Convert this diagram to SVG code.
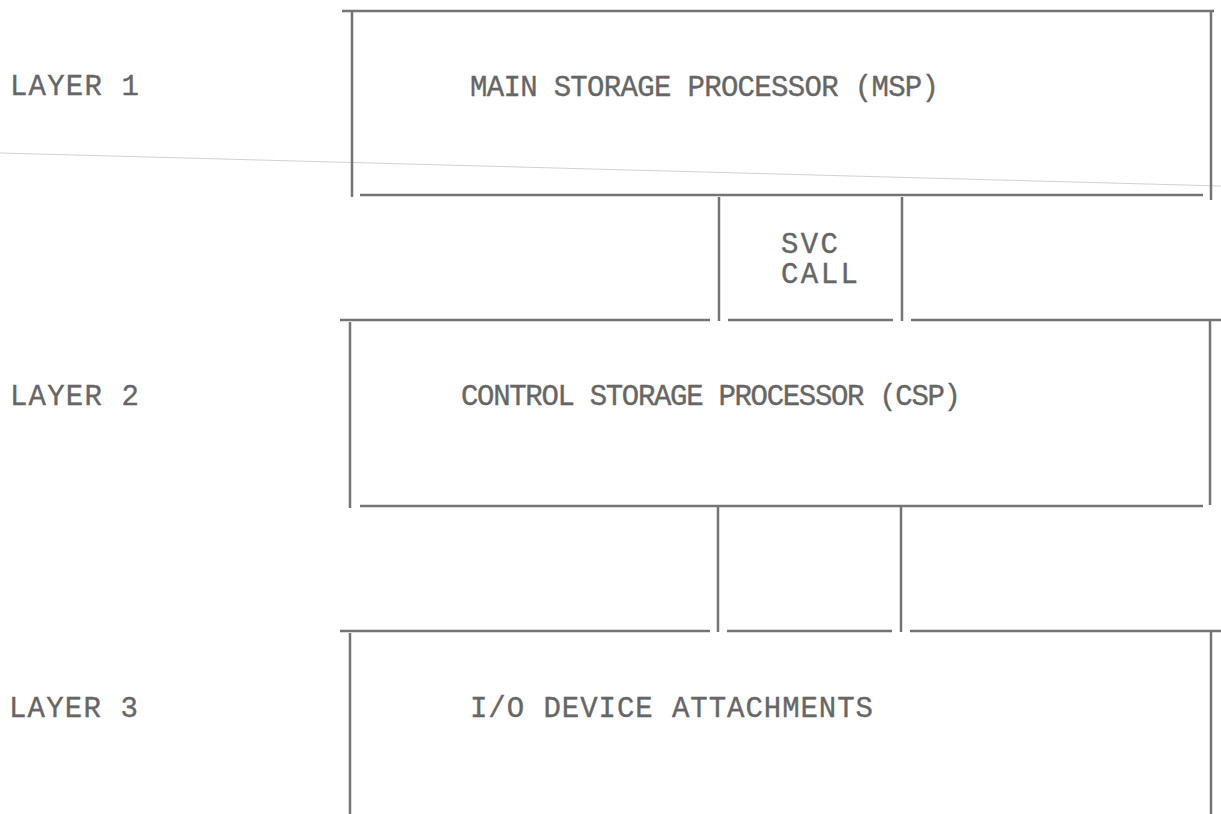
<svg xmlns="http://www.w3.org/2000/svg" width="1221" height="814" viewBox="0 0 1221 814">
<style>
.ln{stroke:#747474;stroke-width:2.5;fill:none;stroke-linecap:butt}
.tx{font-family:"Liberation Mono","Courier New",monospace;font-size:29px;fill:#666666;stroke:#666666;stroke-width:0.35}
.faint{stroke:#d2d2d2;stroke-width:1;fill:none}
</style>
<rect width="1221" height="814" fill="#ffffff"/>
<line class="faint" x1="0" y1="153" x2="1221" y2="186"/>
<g id="labels">
<text class="tx" x="10" y="95" textLength="129" lengthAdjust="spacing">LAYER 1</text>
<text class="tx" x="10" y="405" textLength="129" lengthAdjust="spacing">LAYER 2</text>
<text class="tx" x="9" y="717" textLength="129" lengthAdjust="spacing">LAYER 3</text>
</g>
<g id="layer1">
<path class="ln" d="M342 11 H1214 M352 11 V197 M1211 12 V200 M360 195 H1203"/>
<text class="tx" x="470" y="96" textLength="469" lengthAdjust="spacing">MAIN STORAGE PROCESSOR (MSP)</text>
</g>
<g id="layer2">
<path class="ln" d="M340 320 H710 M728 320 H893 M911 320 H1221 M350 322 V508 M1210 320 V505 M360 506 H1203"/>
<text class="tx" x="461" y="405" textLength="500" lengthAdjust="spacing">CONTROL STORAGE PROCESSOR (CSP)</text>
</g>
<g id="layer3">
<path class="ln" d="M340 631 H710 M727 631 H892 M910 631 H1221 M350 633 V814 M1211 631 V814"/>
<text class="tx" x="470" y="717" textLength="403" lengthAdjust="spacing">I/O DEVICE ATTACHMENTS</text>
</g>
<g id="connectors">
<g id="svc-call">
<path class="ln" d="M719 197 V321 M902 197 V321"/>
<text class="tx" x="781" y="253" textLength="57" lengthAdjust="spacing">SVC</text>
<text class="tx" x="781" y="283" textLength="77" lengthAdjust="spacing">CALL</text>
</g>
<g id="csp-io">
<path class="ln" d="M718 507 V632 M901 507 V632"/>
</g>
</g>
</svg>
